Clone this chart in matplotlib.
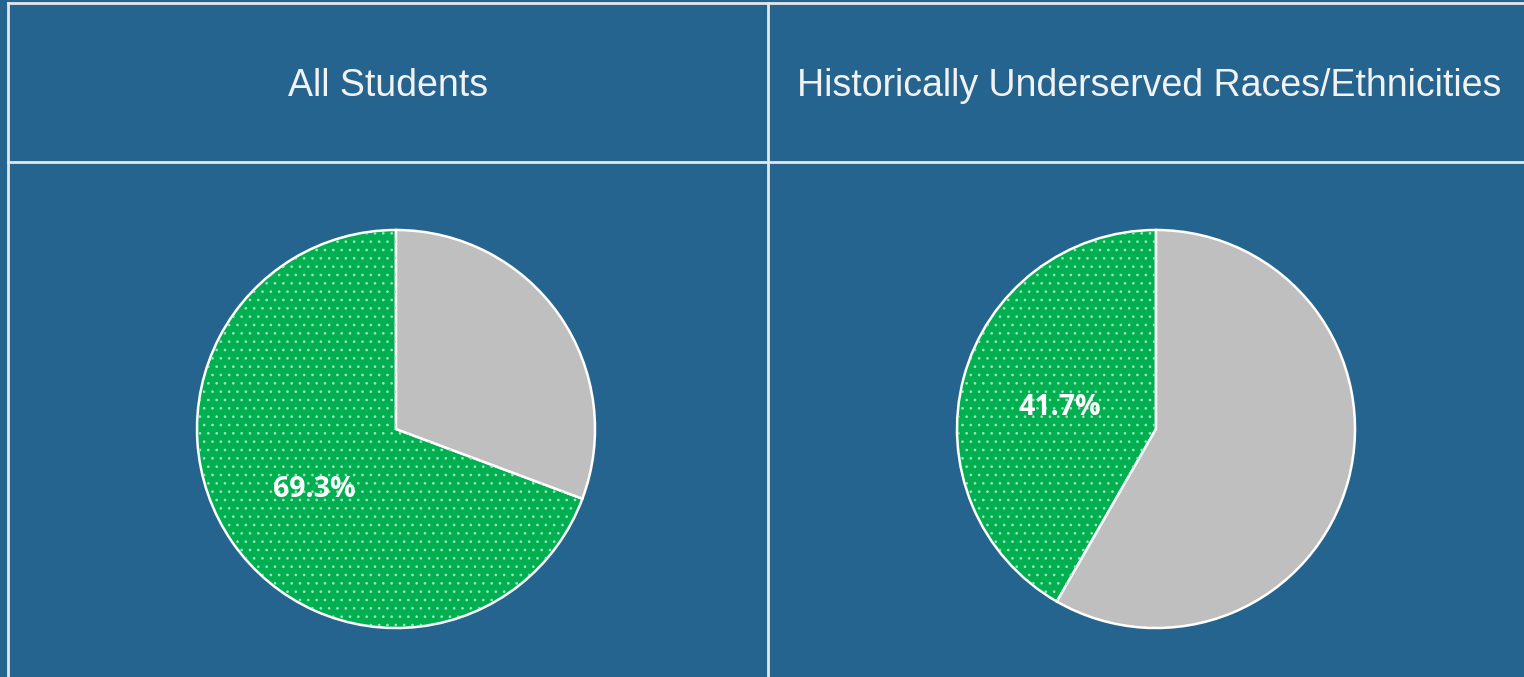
import matplotlib
matplotlib.use("Agg")
import matplotlib.pyplot as plt
import numpy as np

# data
groups = ["All Students", "Historically Underserved Races/Ethnicities"]
pct_green = [69.3, 41.7]
pct_gray = [30.7, 58.3]

bg = "#266490"
green = "#00B050"
gray = "#BFBFBF"
dot_col = "#9FE3BE"
line_col = "#E6E6E6"

plt.rcParams['hatch.linewidth'] = 0.7

W, H = 1524, 677
fig = plt.figure(figsize=(W / 100, H / 100), dpi=100, facecolor=bg)

# table grid + titles on an overlay axes in pixel coordinates
grid = fig.add_axes([0, 0, 1, 1])
grid.set_xlim(0, W)
grid.set_ylim(H, 0)
grid.axis("off")
for y in [3, 162]:
    grid.plot([8, W], [y, y], color=line_col, lw=2)
for x in [8, 768]:
    grid.plot([x, x], [3, H], color=line_col, lw=2)

title_x = [388, 1149]
for tx, name in zip(title_x, groups):
    grid.text(tx, 86, name, ha="center", va="center", color="#F2F2F2",
              fontsize=27, family="Liberation Sans")

# pies
centers = [396, 1156]
cy = 429
r = 201
for cx, g, gr in zip(centers, pct_green, pct_gray):
    ax = fig.add_axes([(cx - r) / W, (H - cy - r) / H, 2 * r / W, 2 * r / H])
    wedges, _ = ax.pie([g, gr], colors=[green, gray], startangle=90,
                       counterclock=True,
                       wedgeprops=dict(edgecolor="white", linewidth=1.8))
    # dotted fill on the green slice, drawn as an overlay so dots can be softer
    w0 = wedges[0]
    ax.add_patch(matplotlib.patches.Wedge(w0.center, w0.r * 0.995, w0.theta1, w0.theta2,
                                          facecolor="none", edgecolor=dot_col,
                                          linewidth=0, hatch="..", zorder=1.5))
    ax.set_xlim(-1.01, 1.01)
    ax.set_ylim(-1.01, 1.01)
    ax.set_aspect("equal")
    ax.axis("off")
    # label in middle of green slice
    mid = np.deg2rad(90 + g / 100 * 360 / 2)
    ax.text(0.5 * np.cos(mid), 0.5 * np.sin(mid) - 0.02, f"{g}%", ha="center",
            va="center", color="white", fontsize=20.5, fontweight="bold",
            family="Open Sans", zorder=5)

fig.savefig("out.png", dpi=100, facecolor=bg)
